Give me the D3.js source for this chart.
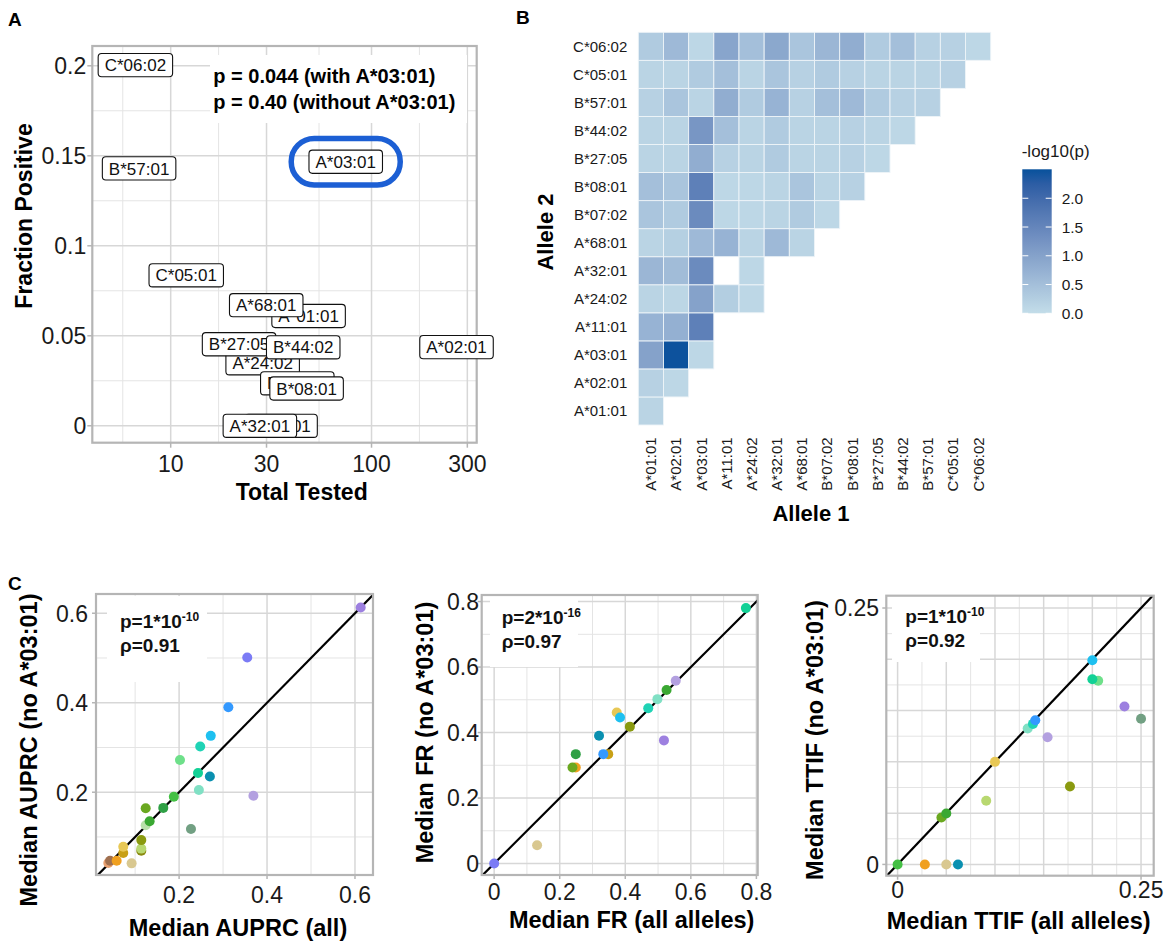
<!DOCTYPE html>
<html>
<head>
<meta charset="utf-8">
<script src="https://cdn.jsdelivr.net/npm/d3@7"></script>
<style>
body { margin: 0; background: #fff; }
svg { font-family: "Liberation Sans", Arial, Helvetica, sans-serif; }
</style>
</head>
<body>
<svg id="fig" width="1167" height="946"></svg>
<script>
// ---- panel A: fraction positive vs total tested ----
var labelAlleles = ["C*06:02", "B*57:01", "A*03:01", "C*05:01", "A*01:01", "A*68:01", "A*24:02",
                    "B*27:05", "B*44:02", "B*07:02", "B*08:01", "A*11:01", "A*32:01", "A*02:01"];
var totalTested = [6.67, 6.96, 74.4, 11.95, 48.6, 29.9, 28.7, 21.9, 45.7, 42.7, 47.5, 35.5, 27.8, 265];
var fracPositive = [0.2004, 0.143, 0.1467, 0.0836, 0.061, 0.067, 0.0347, 0.0453, 0.0436, 0.0236, 0.0207, 0, 0, 0.0437];
var xTicksA = [10, 30, 100, 300];
var yTicksA = [0, 0.05, 0.1, 0.15, 0.2];
var yTickLabelsA = ["0", "0.05", "0.1", "0.15", "0.2"];

// ---- panel B: pairwise -log10(p), lower triangle, rows bottom -> top ----
var alleles = ["A*01:01", "A*02:01", "A*03:01", "A*11:01", "A*24:02", "A*32:01", "A*68:01",
               "B*07:02", "B*08:01", "B*27:05", "B*44:02", "B*57:01", "C*05:01", "C*06:02"];
var heatRows = [
  [0.15],
  [0.2, 0.1],
  [1.0, 2.48, 0.1],
  [0.7, 0.75, 1.6],
  [0.15, 0.12, 1.0, 0.25, 0.1],
  [0.65, 0.55, 1.4, null, 0.1],
  [0.15, 0.22, 0.6, 0.7, 0.15, 0.6, 0.15],
  [0.4, 0.3, 1.4, 0.1, 0.1, 0.15, 0.3, 0.1],
  [0.5, 0.4, 1.6, 0.1, 0.1, 0.15, 0.4, 0.15, 0.2],
  [0.15, 0.15, 0.8, 0.2, 0.15, 0.3, 0.15, 0.15, 0.2, 0.1],
  [0.15, 0.15, 1.2, 0.5, 0.15, 0.3, 0.15, 0.15, 0.2, 0.15, 0.1],
  [0.2, 0.4, 0.15, 0.8, 0.3, 0.7, 0.2, 0.5, 0.6, 0.3, 0.2, 0.2],
  [0.15, 0.15, 0.3, 0.5, 0.15, 0.4, 0.2, 0.3, 0.2, 0.15, 0.15, 0.15, 0.2],
  [0.3, 0.6, 0.1, 0.95, 0.5, 0.9, 0.4, 0.65, 0.8, 0.3, 0.5, 0.2, 0.2, 0.1]
];
var legendTicks = [0, 0.5, 1.0, 1.5, 2.0];

// ---- panel C: medians with / without A*03:01, colour = sample group ----
var groupColors = ["#9d80e0", "#7b7bf5", "#3399ff", "#1ec0f0", "#1fd3b5", "#6ee08a", "#12d196",
                   "#0a90b0", "#80e0c4", "#b3a0e0", "#44c044", "#2fa045", "#6aa820", "#3aa832",
                   "#b9e0aa", "#72a083", "#8a9a10", "#b8d870", "#8a8a10", "#e8c855", "#c8a015",
                   "#d9c890", "#f0a020", "#a07050", "#e8a070"];

var auprcGroup = [24, 23, 22, 21, 20, 19, 18, 17, 16, 15, 14, 13, 12, 11, 10, 9, 8, 7, 6, 5, 4, 3, 2, 1, 0];
var auprcAll = [0.039, 0.043, 0.058, 0.092, 0.073, 0.073, 0.114, 0.114, 0.114, 0.227, 0.124, 0.133, 0.124,
                0.164, 0.188, 0.369, 0.245, 0.270, 0.243, 0.202, 0.248, 0.272, 0.312, 0.355, 0.613];
var auprcNo = [0.042, 0.047, 0.047, 0.041, 0.064, 0.078, 0.069, 0.074, 0.093, 0.118, 0.126, 0.135, 0.164,
               0.165, 0.190, 0.192, 0.205, 0.235, 0.243, 0.272, 0.302, 0.326, 0.390, 0.501, 0.613];

var frGroup = [1, 21, 22, 12, 20, 2, 11, 7, 0, 16, 19, 3, 4, 8, 13, 9, 6];
var frAll = [0, 0.131, 0.249, 0.239, 0.348, 0.333, 0.249, 0.320, 0.518, 0.414, 0.374, 0.384, 0.470, 0.498, 0.526, 0.554, 0.768];
var frNo = [0, 0.056, 0.293, 0.293, 0.334, 0.334, 0.334, 0.390, 0.376, 0.418, 0.461, 0.446, 0.474, 0.502, 0.530, 0.558, 0.780];

var ttifGroup = [10, 22, 21, 7, 12, 13, 17, 19, 16, 8, 4, 2, 9, 15, 0, 5, 6, 3];
var ttifAll = [0, 0.028, 0.050, 0.062, 0.045, 0.050, 0.091, 0.100, 0.177, 0.1336, 0.139, 0.1414, 0.154, 0.250, 0.233, 0.206, 0.200, 0.200];
var ttifNo = [0, 0, 0, 0, 0.0458, 0.0497, 0.062, 0.100, 0.076, 0.1325, 0.137, 0.1406, 0.124, 0.142, 0.154, 0.179, 0.1805, 0.199];

var svg = d3.select("#fig");
var gridMajor = "#d7d7d7", gridMinor = "#e4e4e4", frameCol = "#b5b5b5";

function panelLetter(t, x, y) {
  svg.append("text").attr("x", x).attr("y", y).attr("font-size", 19).attr("font-weight", "bold").text(t);
}

// ================= Panel A =================
(function () {
  var left = 92.3, right = 476.7, top = 46, bottom = 442.7;
  var x = d3.scaleLog().domain([4.07, 334]).range([left, right]);
  var y = d3.scaleLinear().domain([-0.0094, 0.211]).range([bottom, top]);
  var g = svg.append("g");

  var xMinor = [];
  var ext = [xTicksA[0] / (xTicksA[1] / xTicksA[0])].concat(xTicksA);
  for (var i = 1; i < ext.length; i++) xMinor.push(Math.sqrt(ext[i - 1] * ext[i]));
  var yMinor = d3.range(0.025, 0.2, 0.05);

  g.selectAll(".xmin").data(xMinor).enter().append("line")
    .attr("x1", d => x(d)).attr("x2", d => x(d)).attr("y1", top).attr("y2", bottom)
    .attr("stroke", gridMinor).attr("stroke-width", 1);
  g.selectAll(".ymin").data(yMinor).enter().append("line")
    .attr("x1", left).attr("x2", right).attr("y1", d => y(d)).attr("y2", d => y(d))
    .attr("stroke", gridMinor).attr("stroke-width", 1);
  g.selectAll(".xmaj").data(xTicksA).enter().append("line")
    .attr("x1", d => x(d)).attr("x2", d => x(d)).attr("y1", top).attr("y2", bottom)
    .attr("stroke", gridMajor).attr("stroke-width", 1.5);
  g.selectAll(".ymaj").data(yTicksA).enter().append("line")
    .attr("x1", left).attr("x2", right).attr("y1", d => y(d)).attr("y2", d => y(d))
    .attr("stroke", gridMajor).attr("stroke-width", 1.5);

  // ticks + labels
  g.selectAll(".ytk").data(yTicksA).enter().append("line")
    .attr("x1", left - 5).attr("x2", left).attr("y1", d => y(d)).attr("y2", d => y(d))
    .attr("stroke", frameCol).attr("stroke-width", 1.5);
  g.selectAll(".xtk").data(xTicksA).enter().append("line")
    .attr("x1", d => x(d)).attr("x2", d => x(d)).attr("y1", bottom).attr("y2", bottom + 5)
    .attr("stroke", frameCol).attr("stroke-width", 1.5);
  g.selectAll(".ylab").data(yTicksA).enter().append("text")
    .attr("x", left - 6).attr("y", d => y(d)).attr("dy", "0.36em").attr("text-anchor", "end")
    .attr("font-size", 23).attr("fill", "#1a1a1a").text((d, i) => yTickLabelsA[i]);
  g.selectAll(".xlab").data(xTicksA).enter().append("text")
    .attr("x", d => x(d)).attr("y", 471.7).attr("text-anchor", "middle")
    .attr("font-size", 23).attr("fill", "#1a1a1a").text(d => d);

  g.append("rect").attr("x", left).attr("y", top).attr("width", right - left).attr("height", bottom - top)
    .attr("fill", "none").attr("stroke", frameCol).attr("stroke-width", 2.2);

  g.append("text").attr("x", 301.7).attr("y", 500).attr("text-anchor", "middle")
    .attr("font-size", 23).attr("font-weight", "bold").text("Total Tested");
  g.append("text").attr("transform", "translate(32,216) rotate(-90)").attr("text-anchor", "middle")
    .attr("font-size", 23).attr("font-weight", "bold").text("Fraction Positive");

  // p-value annotation
  g.append("rect").attr("x", 210).attr("y", 55).attr("width", 257).attr("height", 68).attr("fill", "#fff");
  var pt = g.append("text").attr("font-size", 20).attr("font-weight", "bold");
  pt.append("tspan").attr("x", 213.3).attr("y", 83.3).text("p = 0.044 (with A*03:01)");
  pt.append("tspan").attr("x", 213.3).attr("y", 109).text("p = 0.40 (without A*03:01)");

  // highlight ring around A*03:01
  var hi = labelAlleles.indexOf("A*03:01");
  g.append("rect").attr("x", x(totalTested[hi]) - 54.5).attr("y", y(fracPositive[hi]) - 23.3)
    .attr("width", 109).attr("height", 46.6).attr("rx", 23).attr("fill", "none")
    .attr("stroke", "#1c5fd4").attr("stroke-width", 5.5);

  // labels
  labelAlleles.forEach(function (name, i) {
    var lg = g.append("g").attr("transform", "translate(" + x(totalTested[i]) + "," + y(fracPositive[i]) + ")");
    var t = lg.append("text").attr("text-anchor", "middle").attr("dy", "0.36em")
      .attr("font-size", 17).attr("fill", "#111").text(name);
    var w = t.node().getComputedTextLength() + 13;
    lg.insert("rect", "text").attr("x", -w / 2).attr("y", -11.6).attr("width", w).attr("height", 23.2)
      .attr("rx", 3.5).attr("fill", "#fff").attr("stroke", "#111").attr("stroke-width", 1.1);
  });
})();

// ================= Panel B =================
(function () {
  var xB = d3.scaleBand().domain(alleles).range([638.3, 990.7]);
  var yB = d3.scaleBand().domain(alleles).range([425, 32.3]);
  var color = d3.scaleLinear().domain([0, 2.5]).range(["#c3dde9", "#08519c"]).interpolate(d3.interpolateLab);
  var g = svg.append("g");

  var cells = [];
  heatRows.forEach(function (row, i) {
    row.forEach(function (v, j) {
      if (v !== null) cells.push({ row: alleles[i], col: alleles[j], v: v });
    });
  });
  g.selectAll(".cell").data(cells).enter().append("rect")
    .attr("x", d => xB(d.col)).attr("y", d => yB(d.row))
    .attr("width", xB.bandwidth()).attr("height", yB.bandwidth())
    .attr("fill", d => color(d.v)).attr("stroke", "#eef4f8").attr("stroke-width", 0.9);

  g.selectAll(".rl").data(alleles).enter().append("text")
    .attr("x", 627.3).attr("y", d => yB(d) + yB.bandwidth() / 2).attr("dy", "0.36em")
    .attr("text-anchor", "end").attr("font-size", 15).attr("fill", "#1a1a1a").text(d => d);
  g.selectAll(".cl").data(alleles).enter().append("text")
    .attr("transform", d => "translate(" + (xB(d) + xB.bandwidth() / 2) + ",437.3) rotate(-90)")
    .attr("dy", "0.36em").attr("text-anchor", "end").attr("font-size", 15).attr("fill", "#1a1a1a").text(d => d);

  g.append("text").attr("x", 811).attr("y", 521).attr("text-anchor", "middle")
    .attr("font-size", 22).attr("font-weight", "bold").text("Allele 1");
  g.append("text").attr("transform", "translate(553,232) rotate(-90)").attr("text-anchor", "middle")
    .attr("font-size", 22).attr("font-weight", "bold").text("Allele 2");

  // colour legend
  var defs = svg.append("defs");
  var grad = defs.append("linearGradient").attr("id", "lg").attr("x1", 0).attr("x2", 0).attr("y1", 1).attr("y2", 0);
  d3.range(0, 1.0001, 0.1).forEach(function (t) {
    grad.append("stop").attr("offset", t).attr("stop-color", color(t * 2.504));
  });
  var ly = d3.scaleLinear().domain([0, 2.5]).range([313.3, 169.5]);
  g.append("text").attr("x", 1021.7).attr("y", 157).attr("font-size", 17).attr("fill", "#1a1a1a").text("-log10(p)");
  g.append("rect").attr("x", 1022.3).attr("y", 169.3).attr("width", 29.4).attr("height", 144)
    .attr("fill", "url(#lg)");
  g.selectAll(".lt1").data(legendTicks).enter().append("line")
    .attr("x1", 1022.3).attr("x2", 1028.3).attr("y1", d => ly(d)).attr("y2", d => ly(d))
    .attr("stroke", "#fff").attr("stroke-width", 1);
  g.selectAll(".lt2").data(legendTicks).enter().append("line")
    .attr("x1", 1045.7).attr("x2", 1051.7).attr("y1", d => ly(d)).attr("y2", d => ly(d))
    .attr("stroke", "#fff").attr("stroke-width", 1);
  g.selectAll(".ltl").data(legendTicks).enter().append("text")
    .attr("x", 1061.7).attr("y", d => ly(d)).attr("dy", "0.36em").attr("font-size", 15.5)
    .attr("fill", "#1a1a1a").text(d => d.toFixed(1));
})();

// ================= Panel C =================
function scatterPanel(cfg) {
  var x = d3.scaleLinear().domain(cfg.xDom).range([cfg.left, cfg.right]);
  var y = d3.scaleLinear().domain(cfg.yDom).range([cfg.bottom, cfg.top]);
  var g = svg.append("g");
  var clipId = "clip" + cfg.id;
  svg.select("defs").append("clipPath").attr("id", clipId).append("rect")
    .attr("x", cfg.left).attr("y", cfg.top).attr("width", cfg.right - cfg.left).attr("height", cfg.bottom - cfg.top);

  g.selectAll(".xm").data(cfg.minor).enter().append("line")
    .attr("x1", d => x(d)).attr("x2", d => x(d)).attr("y1", cfg.top).attr("y2", cfg.bottom)
    .attr("stroke", gridMinor).attr("stroke-width", 1);
  g.selectAll(".ym").data(cfg.minor).enter().append("line")
    .attr("x1", cfg.left).attr("x2", cfg.right).attr("y1", d => y(d)).attr("y2", d => y(d))
    .attr("stroke", gridMinor).attr("stroke-width", 1);
  g.selectAll(".xM").data(cfg.major).enter().append("line")
    .attr("x1", d => x(d)).attr("x2", d => x(d)).attr("y1", cfg.top).attr("y2", cfg.bottom)
    .attr("stroke", gridMajor).attr("stroke-width", 1.5);
  g.selectAll(".yM").data(cfg.major).enter().append("line")
    .attr("x1", cfg.left).attr("x2", cfg.right).attr("y1", d => y(d)).attr("y2", d => y(d))
    .attr("stroke", gridMajor).attr("stroke-width", 1.5);

  // stats box
  g.append("rect").attr("x", cfg.box[0]).attr("y", cfg.box[1]).attr("width", cfg.box[2]).attr("height", cfg.box[3])
    .attr("fill", "#fff");
  var st = g.append("text").attr("font-size", 19).attr("font-weight", "bold").attr("fill", "#111");
  st.append("tspan").attr("x", cfg.statX).attr("y", cfg.statY).text(cfg.pText);
  st.append("tspan").attr("dy", -7).attr("font-size", 12).text(cfg.pExp);
  g.append("text").attr("x", cfg.statX).attr("y", cfg.statY + 24).attr("font-size", 19)
    .attr("font-weight", "bold").attr("fill", "#111").text(cfg.rhoText);

  var lo = Math.min(cfg.xDom[0], cfg.yDom[0]), hi = Math.max(cfg.xDom[1], cfg.yDom[1]);
  g.append("line").attr("clip-path", "url(#" + clipId + ")")
    .attr("x1", x(lo)).attr("y1", y(lo)).attr("x2", x(hi)).attr("y2", y(hi))
    .attr("stroke", "#000").attr("stroke-width", 2.2);

  g.selectAll(".pt").data(cfg.xs).enter().append("circle")
    .attr("cx", d => x(d)).attr("cy", (d, i) => y(cfg.ys[i])).attr("r", 5)
    .attr("fill", (d, i) => groupColors[cfg.groups[i]]);

  g.append("rect").attr("x", cfg.left).attr("y", cfg.top).attr("width", cfg.right - cfg.left)
    .attr("height", cfg.bottom - cfg.top).attr("fill", "none").attr("stroke", frameCol).attr("stroke-width", 2.2);

  // ticks and tick labels
  g.selectAll(".ytk").data(cfg.yLabTicks).enter().append("line")
    .attr("x1", cfg.left - 4).attr("x2", cfg.left).attr("y1", d => y(d)).attr("y2", d => y(d))
    .attr("stroke", frameCol).attr("stroke-width", 1.5);
  g.selectAll(".xtk").data(cfg.xLabTicks).enter().append("line")
    .attr("x1", d => x(d)).attr("x2", d => x(d)).attr("y1", cfg.bottom).attr("y2", cfg.bottom + 4)
    .attr("stroke", frameCol).attr("stroke-width", 1.5);
  g.selectAll(".yl").data(cfg.yLabTicks).enter().append("text")
    .attr("x", cfg.yLabX).attr("y", d => y(d)).attr("dy", "0.36em").attr("text-anchor", "end")
    .attr("font-size", 23).attr("fill", "#1a1a1a").text((d, i) => cfg.yLabels[i]);
  g.selectAll(".xl").data(cfg.xLabTicks).enter().append("text")
    .attr("x", d => x(d)).attr("y", cfg.xLabY).attr("text-anchor", "middle")
    .attr("font-size", 23).attr("fill", "#1a1a1a").text((d, i) => cfg.xLabels[i]);

  g.append("text").attr("x", cfg.xTitle[0]).attr("y", cfg.xTitle[1]).attr("text-anchor", "middle")
    .attr("font-size", 23.5).attr("font-weight", "bold").text(cfg.xTitleText);
  g.append("text").attr("transform", "translate(" + cfg.yTitle[0] + "," + cfg.yTitle[1] + ") rotate(-90)")
    .attr("text-anchor", "middle").attr("font-size", 23.5).attr("font-weight", "bold").text(cfg.yTitleText);
}

scatterPanel({
  id: 1, left: 96, right: 373, top: 594, bottom: 875,
  xDom: [0.011, 0.641], yDom: [0.015, 0.643],
  major: [0.2, 0.4, 0.6], minor: [0.1, 0.3, 0.5],
  xLabTicks: [0.2, 0.4, 0.6], xLabels: ["0.2", "0.4", "0.6"],
  yLabTicks: [0.2, 0.4, 0.6], yLabels: ["0.2", "0.4", "0.6"],
  yLabX: 88, xLabY: 903,
  box: [107, 596, 100, 86], statX: 120, statY: 628,
  pText: "p=1*10", pExp: "-10", rhoText: "\u03c1=0.91",
  xs: auprcAll, ys: auprcNo, groups: auprcGroup,
  xTitle: [238, 936], xTitleText: "Median AUPRC (all)",
  yTitle: [37, 750], yTitleText: "Median AUPRC (no A*03:01)"
});

scatterPanel({
  id: 2, left: 481.7, right: 757.7, top: 595, bottom: 875,
  xDom: [-0.038, 0.804], yDom: [-0.035, 0.82],
  major: [0, 0.2, 0.4, 0.6, 0.8], minor: [0.1, 0.3, 0.5, 0.7],
  xLabTicks: [0, 0.2, 0.4, 0.6, 0.8], xLabels: ["0", "0.2", "0.4", "0.6", "0.8"],
  yLabTicks: [0, 0.2, 0.4, 0.6, 0.8], yLabels: ["0", "0.2", "0.4", "0.6", "0.8"],
  yLabX: 479, xLabY: 900,
  box: [490, 596, 88, 71], statX: 501.7, statY: 624,
  pText: "p=2*10", pExp: "-16", rhoText: "\u03c1=0.97",
  xs: frAll, ys: frNo, groups: frGroup,
  xTitle: [631.7, 928], xTitleText: "Median FR (all alleles)",
  yTitle: [433, 732.5], yTitleText: "Median FR (no A*03:01)"
});

scatterPanel({
  id: 3, left: 886.3, right: 1153.7, top: 595.7, bottom: 875.7,
  xDom: [-0.0116, 0.263], yDom: [-0.011, 0.262],
  major: [0, 0.05, 0.1, 0.15, 0.2, 0.25], minor: [0.025, 0.075, 0.125, 0.175, 0.225],
  xLabTicks: [0, 0.25], xLabels: ["0", "0.25"],
  yLabTicks: [0, 0.25], yLabels: ["0", "0.25"],
  yLabX: 879, xLabY: 898,
  box: [892, 596, 88, 66], statX: 905.3, statY: 623.3,
  pText: "p=1*10", pExp: "-10", rhoText: "\u03c1=0.92",
  xs: ttifAll, ys: ttifNo, groups: ttifGroup,
  xTitle: [1018.7, 929], xTitleText: "Median TTIF (all alleles)",
  yTitle: [823, 740], yTitleText: "Median TTIF (no A*03:01)"
});

panelLetter("A", 8, 26);
panelLetter("B", 516, 24);
panelLetter("C", 8, 590);
</script>
</body>
</html>
